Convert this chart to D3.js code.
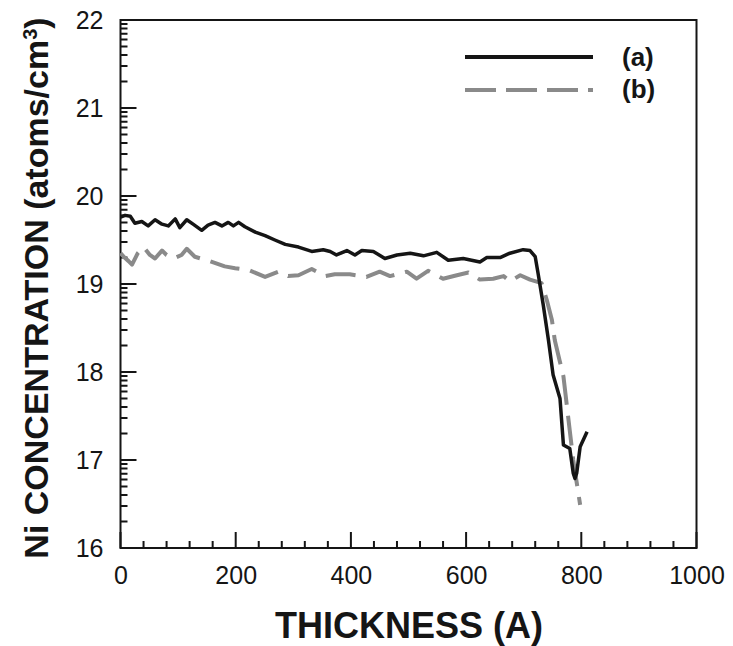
<!DOCTYPE html>
<html>
<head>
<meta charset="utf-8">
<script src="https://cdn.jsdelivr.net/npm/d3@7"></script>
</head>
<body style="margin:0;background:#fff">
<svg id="chart" width="733" height="646" style="font-family:'Liberation Sans', Arial, sans-serif"></svg>
<script>
// ---- data (thickness in Å, concentration as log10 exponent of atoms/cm^3) ----
const xA = [0, 8, 17, 25, 37, 48, 60, 72, 83, 95, 103, 115, 126, 141, 152, 164, 176, 187, 196, 205, 216, 234, 251, 268, 286, 309, 332, 352, 364, 375, 393, 407, 419, 439, 459, 480, 503, 526, 549, 569, 595, 624, 636, 659, 676, 699, 711, 720, 725, 734, 743, 751, 763, 769, 780, 786, 789, 792, 798, 810];
const yA = [19.76, 19.78, 19.77, 19.69, 19.71, 19.66, 19.73, 19.68, 19.66, 19.74, 19.64, 19.73, 19.68, 19.61, 19.67, 19.70, 19.66, 19.70, 19.66, 19.70, 19.65, 19.59, 19.55, 19.50, 19.45, 19.42, 19.37, 19.39, 19.37, 19.33, 19.38, 19.33, 19.38, 19.37, 19.29, 19.33, 19.35, 19.32, 19.36, 19.27, 19.29, 19.25, 19.30, 19.30, 19.35, 19.39, 19.38, 19.31, 19.12, 18.76, 18.36, 17.97, 17.70, 17.17, 17.13, 16.85, 16.79, 16.85, 17.15, 17.32];

const xB = [0, 7, 14, 20, 30, 40, 51, 60, 72, 80, 92, 106, 115, 129, 155, 181, 199, 222, 251, 274, 291, 309, 332, 355, 372, 398, 427, 450, 468, 497, 514, 534, 560, 584, 604, 624, 647, 665, 676, 694, 711, 731, 740, 749, 754, 762, 769, 777, 786, 798];
const yB = [19.35, 19.30, 19.26, 19.22, 19.35, 19.42, 19.33, 19.29, 19.38, 19.33, 19.29, 19.33, 19.40, 19.31, 19.26, 19.20, 19.18, 19.16, 19.08, 19.14, 19.09, 19.10, 19.17, 19.09, 19.11, 19.11, 19.08, 19.14, 19.09, 19.14, 19.06, 19.15, 19.06, 19.10, 19.13, 19.05, 19.06, 19.09, 19.03, 19.10, 19.05, 19.01, 18.82, 18.59, 18.36, 18.14, 17.95, 17.50, 17.00, 16.49];

const seriesNames = ["(a)", "(b)"];
const xTicksMajor = [0, 200, 400, 600, 800, 1000];
const yExponents = [16, 17, 18, 19, 20, 21, 22];
const xLabel = "THICKNESS (A)";
const yLabelMain = "Ni CONCENTRATION (atoms/cm";
const yLabelSup = "3";

// ---- layout ----
const svg = d3.select("#chart");
const pL = 120.5, pR = 696.5, pT = 20, pB = 548;
const ink = "#151515", grey = "#8a8a8a";

const x = d3.scaleLinear().domain([0, 1000]).range([pL, pR]);
const y = d3.scaleLog().domain([1e16, 1e22]).range([pB, pT]);

const xMinor = d3.range(0, 1001, 40).filter(v => v % 200 !== 0);
const yMajorVals = yExponents.map(e => Math.pow(10, e));
const yMinorVals = [];
yExponents.slice(0, -1).forEach(e => { for (let k = 2; k <= 9; k++) yMinorVals.push(k * Math.pow(10, e)); });

// frame
svg.append("rect").attr("x", pL).attr("y", pT)
  .attr("width", pR - pL).attr("height", pB - pT)
  .attr("fill", "none").attr("stroke", ink).attr("stroke-width", 2);

// inward tick marks, built as one path from the scales
const tp = d3.path();
xTicksMajor.forEach(v => { tp.moveTo(x(v), pB); tp.lineTo(x(v), pB - 16); });
xMinor.forEach(v => { tp.moveTo(x(v), pB); tp.lineTo(x(v), pB - 7); });
yMajorVals.forEach(v => { tp.moveTo(pL, y(v)); tp.lineTo(pL + 16, y(v)); });
yMinorVals.forEach(v => { tp.moveTo(pL, y(v)); tp.lineTo(pL + 7, y(v)); });
svg.append("path").attr("d", tp.toString())
  .attr("fill", "none").attr("stroke", ink).attr("stroke-width", 2);

// tick labels via d3.axis
const gx = svg.append("g").attr("transform", `translate(0,${pB})`);
gx.call(d3.axisBottom(x).tickValues(xTicksMajor).tickSize(0).tickPadding(18).tickFormat(d3.format("d")));
const gy = svg.append("g").attr("transform", `translate(${pL},0)`);
gy.call(d3.axisLeft(y).tickValues(yMajorVals).tickSize(0).tickPadding(17)
  .tickFormat(d => String(Math.round(Math.log10(d)))));
[gx, gy].forEach(g => {
  g.select(".domain").remove();
  g.selectAll(".tick line").remove();
  g.selectAll(".tick text").attr("fill", ink)
    .attr("font-size", 25).attr("font-family", "'Liberation Sans', Arial, sans-serif");
});

// lines
const line = d3.line().x(d => x(d[0])).y(d => y(Math.pow(10, d[1])));
const dataA = xA.map((v, i) => [v, yA[i]]);
const dataB = xB.map((v, i) => [v, yB[i]]);

svg.append("path").datum(dataB).attr("d", line)
  .attr("fill", "none").attr("stroke", grey).attr("stroke-width", 4)
  .attr("stroke-dasharray", "30,11").attr("stroke-linejoin", "round");
svg.append("path").datum(dataA).attr("d", line)
  .attr("fill", "none").attr("stroke", ink).attr("stroke-width", 3.5)
  .attr("stroke-linejoin", "round");

// legend
const leg = svg.append("g");
leg.append("line").attr("x1", 465).attr("x2", 593).attr("y1", 57).attr("y2", 57)
  .attr("stroke", ink).attr("stroke-width", 4);
leg.append("line").attr("x1", 465).attr("x2", 593).attr("y1", 90).attr("y2", 90)
  .attr("stroke", grey).attr("stroke-width", 4).attr("stroke-dasharray", "31,10");
leg.append("text").attr("x", 622).attr("y", 66).text(seriesNames[0])
  .attr("fill", ink).attr("font-size", 26).attr("font-weight", "bold");
leg.append("text").attr("x", 622).attr("y", 98).text(seriesNames[1])
  .attr("fill", ink).attr("font-size", 26).attr("font-weight", "bold");

// axis titles
svg.append("text").attr("x", 409).attr("y", 638).attr("text-anchor", "middle")
  .attr("fill", ink).attr("font-size", 36).attr("font-weight", "bold").text(xLabel);

const yt = svg.append("text").attr("transform", "translate(48,288) rotate(-90)")
  .attr("text-anchor", "middle").attr("fill", ink)
  .attr("font-size", 34).attr("font-weight", "bold");
yt.append("tspan").text(yLabelMain);
yt.append("tspan").text(yLabelSup).attr("dy", "-0.55em").attr("font-size", 20);
yt.append("tspan").text(")").attr("dy", "0.32em").attr("font-size", 34);
</script>
</body>
</html>
